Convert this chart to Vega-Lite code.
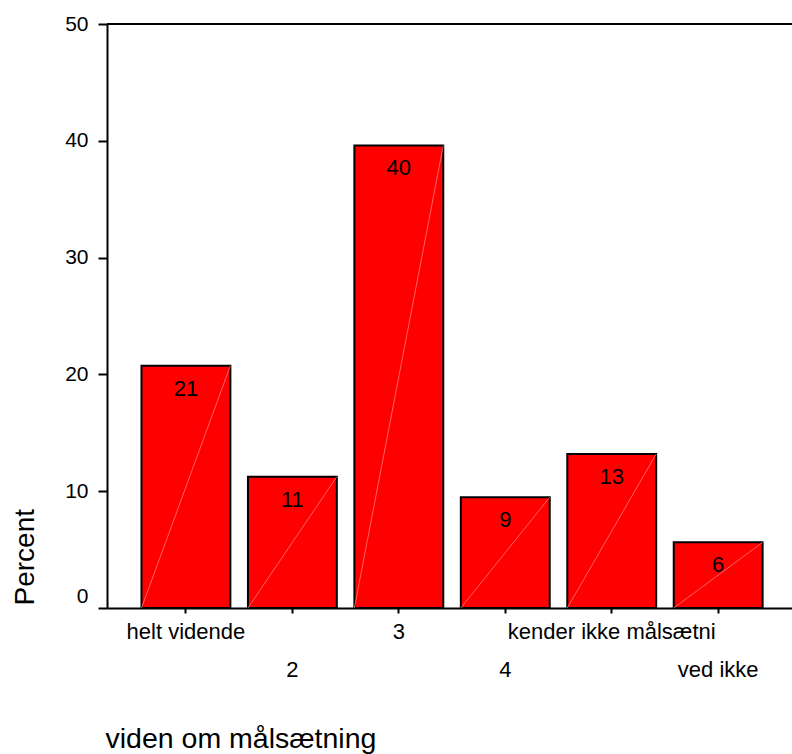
{
  "$schema": "https://vega.github.io/schema/vega-lite/v6.json",
  "width": 685,
  "height": 584,
  "autosize": "none",
  "padding": {"left": 107, "top": 24, "right": 0, "bottom": 146},
  "background": "white",
  "config": {"view": {"stroke": null}, "font": "Liberation Sans", "axis": {"grid": false}},
  "data": {"values": [
    {"cat": "helt vidende", "value": 20.74},
    {"cat": "2", "value": 11.24},
    {"cat": "3", "value": 39.6},
    {"cat": "4", "value": 9.48},
    {"cat": "kender ikke målsætni", "value": 13.18},
    {"cat": "ved ikke", "value": 5.62}
  ]},
  "layer": [
    {
      "mark": {"type": "bar", "fill": "#ff0000", "stroke": "black", "strokeWidth": 2},
      "encoding": {
        "x": {
          "field": "cat", "type": "nominal", "sort": null,
          "scale": {"paddingInner": 0.165, "paddingOuter": 0.3, "align": 0.54},
          "axis": {
            "title": "viden om målsætning",
            "titleFontSize": 28.5, "titleFontWeight": "normal", "titleColor": "black",
            "titleAnchor": "start", "titleAlign": "left", "titleBaseline": "alphabetic",
            "titleX": -2, "titleY": 139,
            "domainColor": "black", "domainWidth": 2,
            "tickColor": "black", "tickWidth": 2, "tickSize": 5,
            "labelFontSize": 22, "labelColor": "black", "labelAngle": 0,
            "labelPadding": 8, "labelBaseline": "top", "labelLineHeight": 38,
            "labelLimit": 400, "labelOverlap": false, "labelBound": false,
            "labelExpr": "indexof(['2','4','ved ikke'], datum.label) >= 0 ? ['', datum.label] : datum.label"
          }
        },
        "y": {
          "field": "value", "type": "quantitative",
          "scale": {"domain": [0, 50], "nice": false},
          "axis": {
            "values": [0, 10, 20, 30, 40, 50],
            "title": "Percent",
            "titleFontSize": 28, "titleFontWeight": "normal", "titleColor": "black",
            "titleAngle": -90, "titleAlign": "left", "titleBaseline": "alphabetic",
            "titleX": -74, "titleY": 581,
            "domainColor": "black", "domainWidth": 2,
            "tickColor": "black", "tickWidth": 2, "tickSize": 9,
            "labelFontSize": 21, "labelColor": "black", "labelPadding": 10,
            "labelOffset": {"condition": {"test": "datum.value === 0", "value": -12}, "value": 0}
          }
        }
      }
    },
    {
      "mark": {"type": "rule", "color": "#ff8c8c", "strokeWidth": 0.7},
      "encoding": {
        "x": {"field": "cat", "type": "nominal", "sort": null, "bandPosition": 1},
        "x2": {"field": "cat", "bandPosition": 0},
        "y": {"field": "value", "type": "quantitative"},
        "y2": {"datum": 0}
      }
    },
    {
      "mark": {"type": "text", "fontSize": 22, "baseline": "alphabetic", "dy": 30, "color": "black"},
      "encoding": {
        "x": {"field": "cat", "type": "nominal", "sort": null},
        "y": {"field": "value", "type": "quantitative"},
        "text": {"field": "value", "type": "quantitative", "format": ".0f"}
      }
    },
    {
      "mark": {"type": "rule", "color": "black", "strokeWidth": 2},
      "encoding": {"y": {"datum": 50, "type": "quantitative"}}
    }
  ]
}
